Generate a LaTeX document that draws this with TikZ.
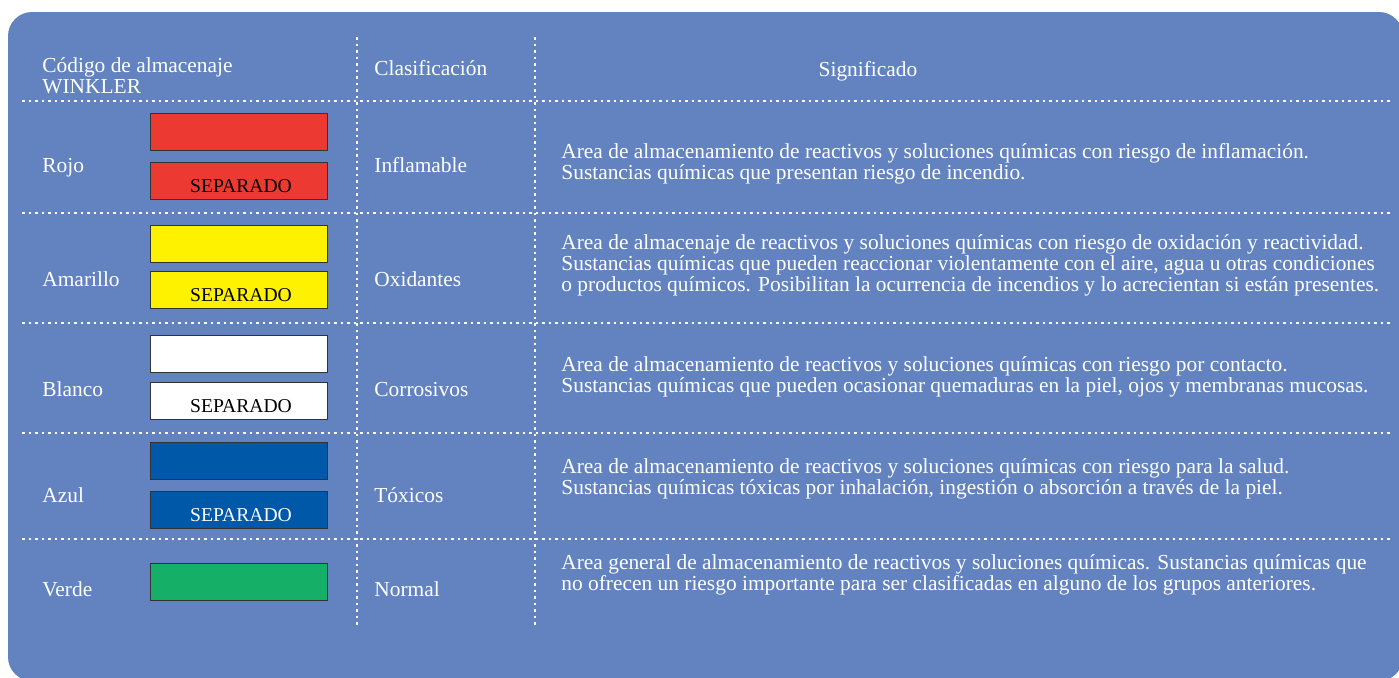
\documentclass[tikz,border=0pt]{standalone}
\usepackage{fontspec}
\setmainfont{Liberation Serif}
\definecolor{fondo}{RGB}{98,131,192}
\definecolor{rojo}{RGB}{236,58,50}
\definecolor{amarillo}{RGB}{255,242,0}
\definecolor{azul}{RGB}{0,88,168}
\definecolor{verde}{RGB}{22,175,104}
\tikzset{
  punteado/.style={white, line width=1.4pt, dash pattern=on 1.4pt off 1.85pt},
  caja/.style={draw=black!80, line width=0.5pt, anchor=north west,
               minimum width=88.5pt, minimum height=18.5pt, inner sep=0pt},
  texto/.style={white, anchor=base west, inner sep=0pt, align=left,
                font=\fontsize{10.7}{10.5}\selectfont},
  sep/.style={anchor=base, inner sep=0pt, font=\fontsize{9.8}{10.5}\selectfont},
}
\begin{document}
\begin{tikzpicture}[x=0.5pt,y=-0.5pt]%{{{
\useasboundingbox (0,0) rectangle (1399,677);
\clip (0,0) rectangle (1399,677);
%
% Fondo
\fill [fondo, rounded corners=12pt] (8,12) rectangle (1403,681);
%
% Lineas
\foreach \y in {101,213,323,433,539} \draw [punteado] (22,\y) -- (1390,\y);
\foreach \x in {357,535} \draw [punteado] (\x,37) -- (\x,627);
%
% Cabecera
\node [texto] (cod) at (42,93) {Código de almacenaje\\WINKLER};
\node [texto] (cla) at (374,75) {Clasificación};
\node [texto, anchor=base] (sig) at (868,76) {Significado};
%
% Rojo
\node [texto] (n1) at (42,172) {Rojo};
\node [caja, fill=rojo] (c1a) at (150,113) {};
\node [caja, fill=rojo] (c1b) at (150,162) {};
\node [sep] (s1) at ([xshift=1pt,yshift=4pt]c1b.south) {SEPARADO};
\node [texto] (k1) at (374,172) {Inflamable};
\node [texto] (d1) at (561,179)
  {Area de almacenamiento de reactivos y soluciones químicas con riesgo de inflamación.\\
   Sustancias químicas que presentan riesgo de incendio.};
%
% Amarillo
\node [texto] (n2) at (42,286) {Amarillo};
\node [caja, fill=amarillo] (c2a) at (150,225) {};
\node [caja, fill=amarillo] (c2b) at (150,271) {};
\node [sep] (s2) at ([xshift=1pt,yshift=4pt]c2b.south) {SEPARADO};
\node [texto] (k2) at (374,286) {Oxidantes};
\node [texto] (d2) at (561,291)
  {Area de almacenaje de reactivos y soluciones químicas con riesgo de oxidación y reactividad.\\
   Sustancias químicas que pueden reaccionar violentamente con el aire, agua u otras condiciones\\
   o productos químicos. Posibilitan la ocurrencia de incendios y lo acrecientan si están presentes.};
%
% Blanco
\node [texto] (n3) at (42,396) {Blanco};
\node [caja, fill=white] (c3a) at (150,335) {};
\node [caja, fill=white] (c3b) at (150,382) {};
\node [sep] (s3) at ([xshift=1pt,yshift=4pt]c3b.south) {SEPARADO};
\node [texto] (k3) at (374,396) {Corrosivos};
\node [texto] (d3) at (561,392)
  {Area de almacenamiento de reactivos y soluciones químicas con riesgo por contacto.\\
   Sustancias químicas que pueden ocasionar quemaduras en la piel, ojos y membranas mucosas.};
%
% Azul
\node [texto] (n4) at (42,502) {Azul};
\node [caja, fill=azul] (c4a) at (150,442) {};
\node [caja, fill=azul] (c4b) at (150,491) {};
\node [sep, white] (s4) at ([xshift=1pt,yshift=4pt]c4b.south) {SEPARADO};
\node [texto] (k4) at (374,502) {Tóxicos};
\node [texto] (d4) at (561,494)
  {Area de almacenamiento de reactivos y soluciones químicas con riesgo para la salud.\\
   Sustancias químicas tóxicas por inhalación, ingestión o absorción a través de la piel.};
%
% Verde
\node [texto] (n5) at (42,596) {Verde};
\node [caja, fill=verde] (c5a) at (150,563) {};
\node [texto] (k5) at (374,596) {Normal};
\node [texto] (d5) at (561,590)
  {Area general de almacenamiento de reactivos y soluciones químicas. Sustancias químicas que\\
   no ofrecen un riesgo importante para ser clasificadas en alguno de los grupos anteriores.};
%
\end{tikzpicture}
\end{document}
